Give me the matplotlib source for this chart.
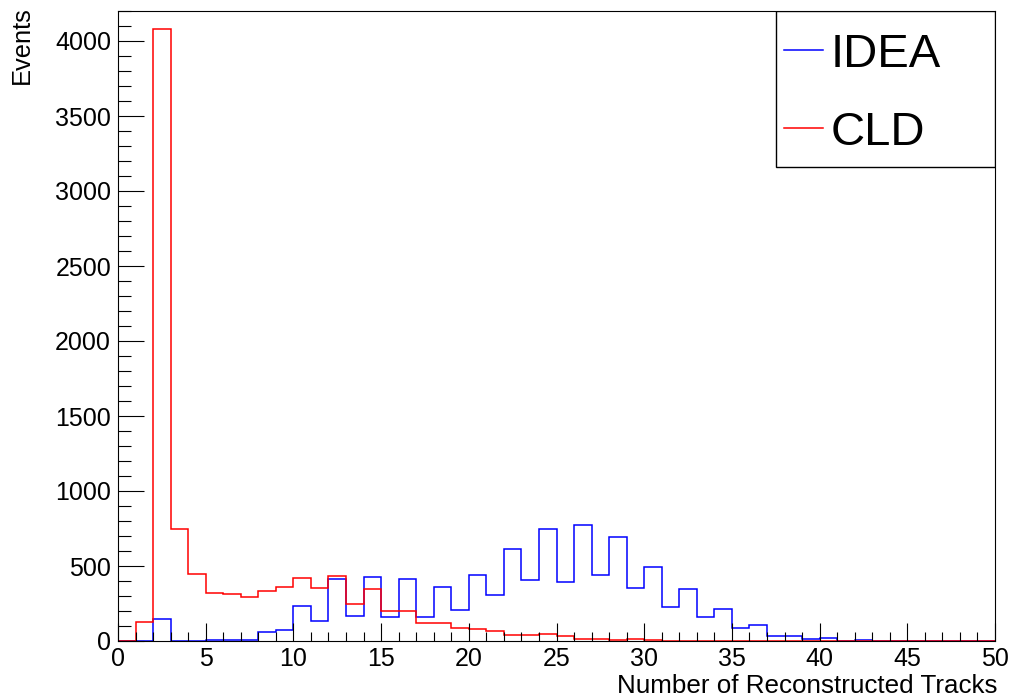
import matplotlib
matplotlib.use("Agg")
import matplotlib.pyplot as plt
from matplotlib.patches import Rectangle
from matplotlib.lines import Line2D
from matplotlib.ticker import MultipleLocator
import numpy as np

plt.rcParams['font.family'] = ['Liberation Sans', 'DejaVu Sans']

# Data: 50 bins of width 1 from 0 to 50
bin_edges = list(range(0, 51))
idea_counts = [0, 0, 146, 0, 0, 4, 6, 10, 58, 76,
               233, 136, 411, 167, 427, 158, 415, 160, 360, 209,
               442, 304, 613, 404, 744, 396, 776, 440, 693, 353,
               491, 227, 347, 158, 216, 87, 104, 36, 34, 16,
               22, 2, 5, 0, 0, 0, 0, 0, 0, 0]
cld_counts = [0, 130, 4080, 750, 450, 320, 313, 293, 333, 360,
              422, 353, 431, 247, 349, 198, 198, 118, 122, 87,
              80, 69, 42, 42, 44, 33, 16, 16, 9, 11,
              4, 3, 2, 2, 1, 0, 0, 0, 0, 0,
              0, 0, 0, 0, 0, 0, 0, 0, 0, 0]
series_names = ["IDEA", "CLD"]
series_colors = ["#0000ff", "#ff0000"]

W, H = 1012, 698
fig = plt.figure(figsize=(W / 100, H / 100), dpi=100)
ax = fig.add_axes([118 / W, (H - 641) / H, (995 - 118) / W, (641 - 11) / H])

for counts, color in zip([idea_counts, cld_counts], series_colors):
    ax.stairs(counts, bin_edges, color=color, linewidth=1.1, baseline=0)

ax.set_xlim(0, 50)
ax.set_ylim(0, 4200)
ax.xaxis.set_major_locator(MultipleLocator(5))
ax.xaxis.set_minor_locator(MultipleLocator(1))
ax.yaxis.set_major_locator(MultipleLocator(500))
ax.yaxis.set_minor_locator(MultipleLocator(100))
ax.tick_params(axis='x', which='major', direction='in', length=13, width=0.8, labelsize=18, pad=4)
ax.tick_params(axis='x', which='minor', direction='in', length=6.5, width=0.8)
ax.tick_params(axis='y', which='major', direction='in', length=19, width=0.8, labelsize=18, pad=5)
ax.tick_params(axis='y', which='minor', direction='in', length=9.5, width=0.8)
for s in ax.spines.values():
    s.set_linewidth(0.8)
    s.set_color('black')

fig.text(998 / W, (H - 693) / H, "Number of Reconstructed Tracks", ha='right', va='baseline', fontsize=18.7)
fig.text(22 / W, 1 - 6 / H, "Events", rotation=90, ha='center', va='top', fontsize=18.4)

# Legend box (ROOT style)
def px2ax(x, y):
    return ((x - 118) / (995 - 118), (641 - y) / (641 - 11))

x0, y0 = px2ax(776, 167)
x1, y1 = px2ax(995, 11)
ax.add_patch(Rectangle((x0, y0), x1 - x0, y1 - y0, transform=ax.transAxes,
                       facecolor='white', edgecolor='black', linewidth=1.0, zorder=5))
for name, color, ypx in zip(series_names, series_colors, [50, 128]):
    lx0, ly = px2ax(784, ypx)
    lx1, _ = px2ax(823, ypx)
    ax.add_line(Line2D([lx0, lx1], [ly, ly], transform=ax.transAxes, color=color,
                       linewidth=1.1, zorder=6))
    tx, _ = px2ax(831, ypx)
    ax.text(tx, ly, name, transform=ax.transAxes, ha='left', va='center_baseline',
            fontsize=34, zorder=6)

fig.savefig("out.png", dpi=100)
